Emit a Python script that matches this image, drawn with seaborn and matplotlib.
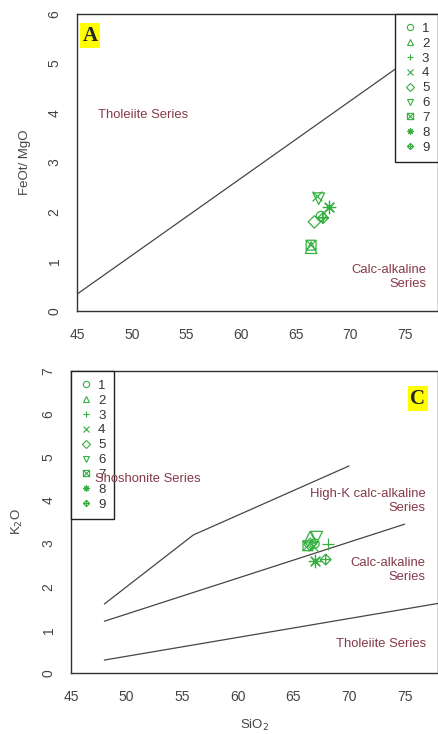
import matplotlib
matplotlib.use("Agg")
import matplotlib.pyplot as plt
from matplotlib.path import Path
from matplotlib.lines import Line2D
import seaborn as sns

# sample labels and values
samples = ['1', '2', '3', '4', '5', '6', '7', '8', '9']
sio2_a = [67.3, 66.4, 67.4, 66.9, 66.7, 67.1, 66.4, 68.0, 67.5]
feot_mgo = [1.92, 1.28, 1.90, 2.33, 1.80, 2.27, 1.33, 2.10, 1.88]
sio2_c = [66.9, 66.5, 68.1, 66.8, 66.5, 67.1, 66.3, 66.9, 67.9]
k2o = [3.00, 3.15, 3.00, 2.95, 2.98, 3.15, 2.95, 2.60, 2.63]

# boundary lines
miya_x = [45, 80]
miya_y = [0.34, 5.81]
sho_x = [48, 56, 63, 70]
sho_y = [1.6, 3.2, 4.0, 4.8]
hkca_x = [48, 75]
hkca_y = [1.2, 3.45]
tho_x = [48, 80]
tho_y = [0.3, 1.7]

green = '#35b040'
txt_col = '#86394a'
line_col = '#4a4444'

# R-like pch 1..9 markers
sq_x = Path([(-1, -1), (1, -1), (1, 1), (-1, 1), (-1, -1), (-1, -1), (1, 1), (-1, 1), (1, -1)],
            [1, 2, 2, 2, 79, 1, 2, 1, 2])
dia_p = Path([(0, -1), (1, 0), (0, 1), (-1, 0), (0, -1), (0, -1), (0, 1), (-1, 0), (1, 0)],
             [1, 2, 2, 2, 79, 1, 2, 1, 2])
markers = ['o', '^', '+', 'x', 'D', 'v', sq_x, (8, 2, 0), dia_p]
filled = [True, True, False, False, True, True, True, False, True]
sizes = [45, 70, 70, 50, 40, 70, 50, 80, 60]

sns.set_style('white')
plt.rcParams['font.family'] = ['Liberation Sans', 'DejaVu Sans']

fig = plt.figure(figsize=(4.38, 7.34), dpi=100)
ax1 = fig.add_axes([0.1758, 0.5763, 0.8242, 0.4046])
ax2 = fig.add_axes([0.1621, 0.0831, 0.8379, 0.4114])


def draw_points(ax, xs, ys):
    for i in range(len(samples)):
        if filled[i]:
            sns.scatterplot(x=[xs[i]], y=[ys[i]], ax=ax, marker=markers[i], s=sizes[i],
                            facecolor='none', edgecolor=green, linewidth=0.9, zorder=4)
        else:
            sns.scatterplot(x=[xs[i]], y=[ys[i]], ax=ax, marker=markers[i], s=sizes[i],
                            color=green, linewidth=0.9, zorder=4)


def add_legend(ax, loc):
    handles = []
    for i in range(len(samples)):
        if filled[i]:
            h = Line2D([], [], linestyle='none', marker=markers[i], markersize=4.5,
                       markerfacecolor='none', markeredgecolor=green, markeredgewidth=0.8)
        else:
            h = Line2D([], [], linestyle='none', marker=markers[i], markersize=4.5,
                       color=green, markeredgewidth=0.8)
        handles.append(h)
    leg = ax.legend(handles, samples, loc=loc, borderaxespad=0, fontsize=9.5,
                    handlelength=1.0, handletextpad=0.4, labelspacing=0.2,
                    borderpad=0.65, fancybox=False, framealpha=1)
    leg.get_frame().set_edgecolor('#222222')
    leg.get_frame().set_linewidth(1.0)
    for t in leg.get_texts():
        t.set_color('#333333')
    return leg


def style_axes(ax, ymax):
    for s in ax.spines.values():
        s.set_color('#333333')
        s.set_linewidth(1.0)
    ax.set_xlim(45, 78)
    ax.set_ylim(0, ymax)
    ax.set_xticks([45, 50, 55, 60, 65, 70, 75])
    ax.set_yticks(range(0, ymax + 1))
    ax.tick_params(axis='both', direction='out', length=5, width=0.9, colors='#333333',
                   labelsize=10, labelcolor='#444444')
    ax.tick_params(axis='x', pad=7)
    ax.tick_params(axis='y', pad=6)
    for lab in ax.get_yticklabels():
        lab.set_rotation(90)
        lab.set_va('center')


# ---- panel A
sns.lineplot(x=miya_x, y=miya_y, ax=ax1, color=line_col, linewidth=0.9, estimator=None)
draw_points(ax1, sio2_a, feot_mgo)
style_axes(ax1, 6)
ax1.set_xlabel('')
ax1.set_ylabel('FeOt/ MgO', fontsize=9.5, color='#444444', labelpad=12)
add_legend(ax1, 'upper right')
ax1.text(51.0, 3.96, 'Tholeiite Series', color=txt_col, fontsize=9.4, ha='center', va='center')
ax1.text(76.9, 0.69, 'Calc-alkaline\nSeries', color=txt_col, fontsize=9.4, ha='right',
         va='center', multialignment='right', linespacing=1.15)
ax1.text(46.2, 5.56, 'A', fontsize=15, fontweight='bold', family='Liberation Serif',
         ha='center', va='center',
         bbox=dict(boxstyle='square,pad=0.12', facecolor='#ffff00', edgecolor='none'))

# ---- panel C
for lx, ly in [(sho_x, sho_y), (hkca_x, hkca_y), (tho_x, tho_y)]:
    sns.lineplot(x=lx, y=ly, ax=ax2, color=line_col, linewidth=0.9, estimator=None)
draw_points(ax2, sio2_c, k2o)
style_axes(ax2, 7)
ax2.set_xlabel('SiO$_2$', fontsize=9.5, color='#444444', labelpad=10)
ax2.set_ylabel('K$_2$O', fontsize=9.5, color='#444444', labelpad=12)
add_legend(ax2, 'upper left')
ax2.text(47.2, 4.5, 'Shoshonite Series', color=txt_col, fontsize=9.4, ha='left',
         va='center', zorder=6)
ax2.text(76.9, 3.99, 'High-K calc-alkaline\nSeries', color=txt_col, fontsize=9.4,
         ha='right', va='center', multialignment='right', linespacing=1.15)
ax2.text(76.9, 2.39, 'Calc-alkaline\nSeries', color=txt_col, fontsize=9.4, ha='right',
         va='center', multialignment='right', linespacing=1.15)
ax2.text(76.9, 0.67, 'Tholeiite Series', color=txt_col, fontsize=9.4, ha='right', va='center')
ax2.text(76.2, 6.36, 'C', fontsize=15, fontweight='bold', family='Liberation Serif',
         ha='center', va='center',
         bbox=dict(boxstyle='square,pad=0.12', facecolor='#ffff00', edgecolor='none'))

fig.savefig('out.png', dpi=100)
